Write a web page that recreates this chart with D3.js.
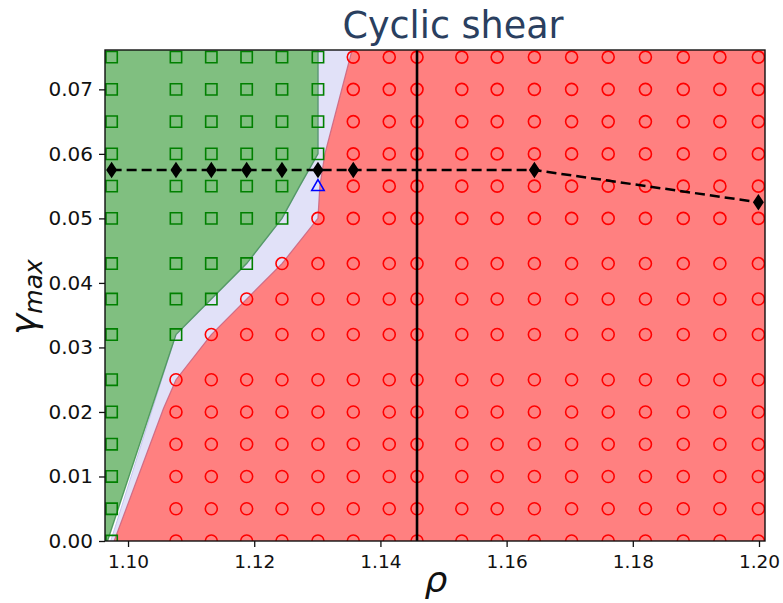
<!DOCTYPE html>
<html>
<head>
<meta charset="utf-8">
<script src="https://cdn.jsdelivr.net/npm/d3@7"></script>
<style>
  html, body { margin: 0; padding: 0; background: #fff; }
  svg { display: block; font-family: "DejaVu Sans", sans-serif; }
</style>
</head>
<body>
<div id="chart"></div>
<script>
// Density values (columns of the simulation grid)
const rhoValues = [1.0974, 1.1076, 1.1132, 1.1188, 1.1244, 1.1301, 1.1357, 1.1414,
                   1.1458, 1.1529, 1.1585, 1.1644, 1.1703, 1.1761, 1.1820, 1.1880,
                   1.1938, 1.1999];
// Strain amplitudes (rows of the grid), bottom to top
const gammaValues = [0, 0.005, 0.01, 0.015, 0.02, 0.025, 0.032, 0.0375, 0.043,
                     0.05, 0.055, 0.06, 0.065, 0.07, 0.075];
// Outcome per grid point, one string per row (same order as gammaValues):
// S = solid-like (square), T = intermediate (triangle), C = flowing (circle)
const outcomeRows = [
  "SCCCCCCCCCCCCCCCCC", // 0
  "SCCCCCCCCCCCCCCCCC", // 0.005
  "SCCCCCCCCCCCCCCCCC", // 0.01
  "SCCCCCCCCCCCCCCCCC", // 0.015
  "SCCCCCCCCCCCCCCCCC", // 0.02
  "SCCCCCCCCCCCCCCCCC", // 0.025
  "SSCCCCCCCCCCCCCCCC", // 0.032
  "SSSCCCCCCCCCCCCCCC", // 0.0375
  "SSSSCCCCCCCCCCCCCC", // 0.043
  "SSSSSCCCCCCCCCCCCC", // 0.05
  "SSSSSTCCCCCCCCCCCC", // 0.055
  "SSSSSSCCCCCCCCCCCC", // 0.06
  "SSSSSSCCCCCCCCCCCC", // 0.065
  "SSSSSSCCCCCCCCCCCC", // 0.07
  "SSSSSSCCCCCCCCCCCC"  // 0.075
];

// Phase boundaries as [rho, gamma] pairs, bottom to top
const solidEdge = [[1.09675, 0], [1.1076, 0.032], [1.1132, 0.0375], [1.1188, 0.043],
                   [1.1244, 0.05], [1.1272, 0.055], [1.1301, 0.06], [1.1301, 0.0761]];
const mixedEdge = [[1.09726, 0], [1.1076, 0.032], [1.1132, 0.0375], [1.1188, 0.043],
                   [1.1244, 0.05], [1.1272, 0.055], [1.1301, 0.06], [1.1301, 0.0761]];
const flowEdge  = [[1.0978, 0], [1.1056, 0.0205], [1.1076, 0.025], [1.1132, 0.032],
                   [1.1188, 0.0375], [1.1244, 0.043], [1.1301, 0.05], [1.1304, 0.055],
                   [1.1312, 0.06], [1.1355, 0.0761]];

// Yield strain curve (diamonds joined by dashes)
const yieldRho   = [1.0974, 1.1076, 1.1132, 1.1188, 1.1244, 1.1301, 1.1357, 1.1644, 1.1999];
const yieldGamma = [0.0575, 0.0575, 0.0575, 0.0575, 0.0575, 0.0575, 0.0575, 0.0575, 0.0525];

// Vertical reference density
const rhoRef = 1.1458;

const xTicks = [1.10, 1.12, 1.14, 1.16, 1.18, 1.20];
const yTicks = [0, 0.01, 0.02, 0.03, 0.04, 0.05, 0.06, 0.07];
const xDomain = [1.09635, 1.20095];
const yDomain = [0, 0.0761];

const W = 783, H = 603;
const m = { left: 105, right: 18, top: 50, bottom: 62 };

const svg = d3.select("#chart").append("svg")
  .attr("width", W).attr("height", H);

const x = d3.scaleLinear().domain(xDomain).range([m.left, W - m.right]);
const y = d3.scaleLinear().domain(yDomain).range([H - m.bottom, m.top]);

svg.append("defs").append("clipPath").attr("id", "plot-clip")
  .append("rect")
  .attr("x", m.left).attr("y", m.top)
  .attr("width", W - m.left - m.right).attr("height", H - m.top - m.bottom);

const plot = svg.append("g").attr("clip-path", "url(#plot-clip)");

// Solid region: from left edge to the solid boundary
plot.append("path")
  .attr("d", d3.area().y(d => y(d[1])).x0(x(xDomain[0])).x1(d => x(d[0]))(solidEdge))
  .attr("fill", "#80bf80");

// Intermediate band between the two boundaries
const band = mixedEdge.concat(flowEdge.slice().reverse());
plot.append("path")
  .attr("d", d3.line().x(d => x(d[0])).y(d => y(d[1]))(band) + "Z")
  .attr("fill", "#e1e1f8");

// Flowing region: from the flow boundary to the right edge
plot.append("path")
  .attr("d", d3.area().y(d => y(d[1])).x0(d => x(d[0])).x1(x(xDomain[1]))(flowEdge))
  .attr("fill", "#ff8080");

// Boundary outlines
const edgeLine = d3.line().x(d => x(d[0])).y(d => y(d[1]));
plot.append("path").attr("d", edgeLine(mixedEdge))
  .attr("fill", "none").attr("stroke", "#c4c4ef").attr("stroke-width", 1);
plot.append("path").attr("d", edgeLine(solidEdge))
  .attr("fill", "none").attr("stroke", "#3f8f50").attr("stroke-width", 1.4)
  .attr("stroke-opacity", 0.85);
plot.append("path").attr("d", edgeLine(flowEdge))
  .attr("fill", "none").attr("stroke", "#c8607e").attr("stroke-width", 1.2)
  .attr("stroke-opacity", 0.85);

// Grid points
const points = [];
gammaValues.forEach((g, i) => {
  rhoValues.forEach((r, j) => {
    points.push({ rho: r, gamma: g, kind: outcomeRows[i][j] });
  });
});

const markerStyle = {
  S: { path: d3.symbol(d3.symbolSquare, 128)(), color: "#008000" },
  C: { path: d3.symbol(d3.symbolCircle, 113)(), color: "#ff0000" },
  T: { path: "M0,-6.6L6.2,4.3L-6.2,4.3Z", color: "#0000ff" }
};

plot.append("g").selectAll("path")
  .data(points)
  .join("path")
  .attr("transform", d => `translate(${x(d.rho)},${y(d.gamma)})`)
  .attr("d", d => markerStyle[d.kind].path)
  .attr("fill", "none")
  .attr("stroke", d => markerStyle[d.kind].color)
  .attr("stroke-width", 1.6);

// Reference density line
plot.append("line")
  .attr("x1", x(rhoRef)).attr("x2", x(rhoRef))
  .attr("y1", y(yDomain[0])).attr("y2", y(yDomain[1]))
  .attr("stroke", "#000").attr("stroke-width", 2.6);

// Yield curve
const yieldPts = yieldRho.map((r, i) => [r, yieldGamma[i]]);
plot.append("path")
  .attr("d", edgeLine(yieldPts))
  .attr("fill", "none").attr("stroke", "#000")
  .attr("stroke-width", 2.5).attr("stroke-dasharray", "10,5");

plot.append("g").selectAll("path")
  .data(yieldPts)
  .join("path")
  .attr("transform", d => `translate(${x(d[0])},${y(d[1])})`)
  .attr("d", "M0,-8.3L5.5,0L0,8.3L-5.5,0Z")
  .attr("fill", "#000");

// Axes
const xAxis = svg.append("g")
  .attr("transform", `translate(0,${H - m.bottom})`)
  .call(d3.axisBottom(x).tickValues(xTicks).tickFormat(d3.format(".2f"))
    .tickSize(6).tickPadding(8).tickSizeOuter(0));
const yAxis = svg.append("g")
  .attr("transform", `translate(${m.left},0)`)
  .call(d3.axisLeft(y).tickValues(yTicks).tickFormat(d3.format(".2f"))
    .tickSize(6).tickPadding(6).tickSizeOuter(0));

[xAxis, yAxis].forEach(a => {
  a.select(".domain").remove();
  a.selectAll(".tick line").attr("stroke", "#111").attr("stroke-width", 1.3);
  a.selectAll(".tick text")
    .attr("fill", "#111")
    .style("font-family", "'DejaVu Sans', sans-serif");
});
xAxis.selectAll(".tick text").style("font-size", "18.5px");
yAxis.selectAll(".tick text").style("font-size", "20px");

// Frame
svg.append("rect")
  .attr("x", m.left).attr("y", m.top)
  .attr("width", W - m.left - m.right).attr("height", H - m.top - m.bottom)
  .attr("fill", "none").attr("stroke", "#111").attr("stroke-width", 1.4);

// Title
svg.append("text")
  .attr("x", 453).attr("y", 38)
  .attr("text-anchor", "middle")
  .attr("fill", "#2a3f5f")
  .style("font-size", "36.5px")
  .text("Cyclic shear");

// Axis labels
svg.append("text")
  .attr("x", 436).attr("y", 592)
  .attr("text-anchor", "middle")
  .style("font-size", "36px").style("font-style", "italic")
  .attr("fill", "#111")
  .text("ρ");

const yl = svg.append("text")
  .attr("transform", "translate(36,335) rotate(-90)")
  .attr("fill", "#111")
  .style("font-style", "italic");
yl.append("tspan").style("font-size", "36px").text("γ");
yl.append("tspan").style("font-size", "25px").attr("dy", 6).text("max");
</script>
</body>
</html>
